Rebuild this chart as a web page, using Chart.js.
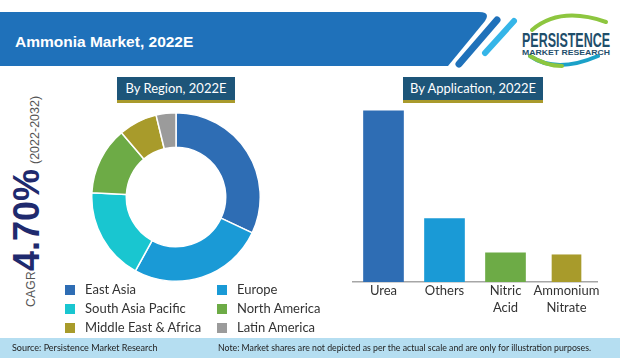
<!DOCTYPE html>
<html>
<head>
<meta charset="utf-8">
<script src="https://cdn.jsdelivr.net/npm/chart.js@4.4.1/dist/chart.umd.min.js"></script>
<style>
  body { margin: 0; width: 620px; height: 361px; background: #fff; position: relative; overflow: hidden; font-family: Lato, "Liberation Sans", sans-serif; }
  .abs { position: absolute; }
  .box { position: absolute; top: 77px; height: 23px; background: #1D5579; border-bottom: 3px solid #A99A2C; color: #fff; font-size: 13px; line-height: 23px; text-align: center; }
  .rot { position: absolute; transform: rotate(-90deg); transform-origin: 0 0; white-space: nowrap; line-height: 1; font-family: "Liberation Sans", sans-serif; }
  .leg { position: absolute; font-size: 13px; color: #333; line-height: 18px; white-space: nowrap; }
  .leg i { display: inline-block; width: 10px; height: 10px; margin-right: 10px; vertical-align: -1px; }
  #foot { position: absolute; left: 0; top: 338px; width: 620px; height: 20px; background: #B5DEF1; font-size: 9.5px; color: #222; line-height: 20px; }
  #foot span { position: absolute; white-space: nowrap; transform-origin: 0 50%; }
</style>
</head>
<body>
<svg class="abs" style="left:0;top:0" width="620" height="76">
  <path d="M0 12 H479 Q491 12 485 21 L448 66 H0 Z" fill="#1F71BA"/>
  <line x1="459" y1="64" x2="497" y2="20" stroke="#1F71BA" stroke-width="7" stroke-linecap="round"/>
  <line x1="485" y1="53" x2="514" y2="21" stroke="#35B5E8" stroke-width="6" stroke-linecap="round"/>
  <path d="M532 30 Q560 6 606 22" fill="none" stroke="#8DC63F" stroke-width="4" stroke-linecap="round"/>
  <path d="M530 56 Q556 74 598 56" fill="none" stroke="#1BA1C8" stroke-width="4" stroke-linecap="round"/>
  <path d="M530 56 Q546 66 562 66" fill="none" stroke="#8DC63F" stroke-width="4" stroke-linecap="round"/>
  <text x="522" y="47" font-family="Liberation Sans" font-weight="bold" font-size="21" fill="#1F4E6B" textLength="88" lengthAdjust="spacingAndGlyphs">PERSISTENCE</text>
  <text x="522" y="55" font-family="Liberation Sans" font-weight="bold" font-size="7" fill="#1F4E6B" textLength="88" lengthAdjust="spacingAndGlyphs">MARKET RESEARCH</text>
  <text x="15" y="47" font-family="Liberation Sans" font-weight="bold" font-size="15.5" fill="#fff">Ammonia Market, 2022E</text>
</svg>

<div class="box" style="left:117px;width:118px">By Region, 2022E</div>
<div class="box" style="left:403px;width:140px">By Application, 2022E</div>

<div class="rot" style="left:25px;top:307px;font-size:12px;color:#555;letter-spacing:0.3px">CAGR</div>
<div class="rot" style="left:9px;top:271px;font-size:36px;font-weight:bold;color:#1F2A6E">4.70%</div>
<div class="rot" style="left:29px;top:164px;font-size:12.5px;color:#555">(2022-2032)</div>

<canvas id="donut" class="abs" style="left:91px;top:112px" width="170" height="170"></canvas>
<canvas id="bars" class="abs" style="left:340px;top:100px" width="270" height="230"></canvas>
<div id="legend"></div>

<div id="foot">
  <span style="left:12px;transform:scaleX(0.95)">Source: Persistence Market Research</span>
  <span style="left:218px;transform:scaleX(0.92)">Note: Market shares are not depicted as per the actual scale and are only for illustration purposes.</span>
</div>

<script>
const regionLabels = ['East Asia', 'Europe', 'South Asia Pacific', 'North America', 'Middle East & Africa', 'Latin America']
const regionShares = [32, 26, 17.8, 13, 7.4, 3.8]
const regionColors = ['#2E6DB4', '#1A9AD6', '#19C6D0', '#6DAB46', '#A89B2B', '#9B9B9B']

const appLabels = [['Urea'], ['Others'], ['Nitric', 'Acid'], ['Ammonium', 'Nitrate']]
const appValues = [60, 22.2, 10.2, 9.5]
const appColors = ['#2E6DB4', '#1A9AD6', '#6DAB46', '#A89B2B']

// html legend, two columns
var legend = document.getElementById('legend')
regionLabels.forEach((lbl, i) => {
    var d = document.createElement('div')
    d.className = 'leg'
    d.style.left = (i % 2 ? 217 : 65) + 'px'
    d.style.top = (280 + Math.floor(i / 2) * 19) + 'px'
    d.innerHTML = `<i style="background:${regionColors[i]}"></i>${lbl}`
    legend.appendChild(d)
})

new Chart(document.getElementById('donut'), {
    type: 'doughnut',
    data: {
        labels: regionLabels,
        datasets: [{
            data: regionShares,
            backgroundColor: regionColors,
            borderColor: '#fff',
            borderWidth: 1.5
        }]
    },
    options: {
        responsive: false,
        animation: false,
        cutout: '59%',
        plugins: { legend: { display: false }, tooltip: { enabled: false } }
    }
})

// last bar is narrower in the original, so it gets its own dataset
new Chart(document.getElementById('bars'), {
    type: 'bar',
    data: {
        labels: appLabels,
        datasets: [
            { data: appValues.map((v, i) => i < 3 ? v : null), backgroundColor: appColors, barThickness: 40 },
            { data: appValues.map((v, i) => i == 3 ? v : null), backgroundColor: appColors, barThickness: 29 }
        ]
    },
    options: {
        responsive: false,
        animation: false,
        layout: { padding: { left: 13, right: 13, top: 5, bottom: 13 } },
        plugins: { legend: { display: false }, tooltip: { enabled: false } },
        scales: {
            x: {
                stacked: true,
                grid: { display: false, drawTicks: false },
                border: { color: '#A6A6A6', width: 1.5 },
                ticks: { color: '#333', font: { family: 'Lato', size: 13, lineHeight: 1.35 }, padding: 0, maxRotation: 0, autoSkip: false }
            },
            y: { stacked: true, display: false, min: 0, max: 62 }
        }
    }
})
</script>
</body>
</html>
